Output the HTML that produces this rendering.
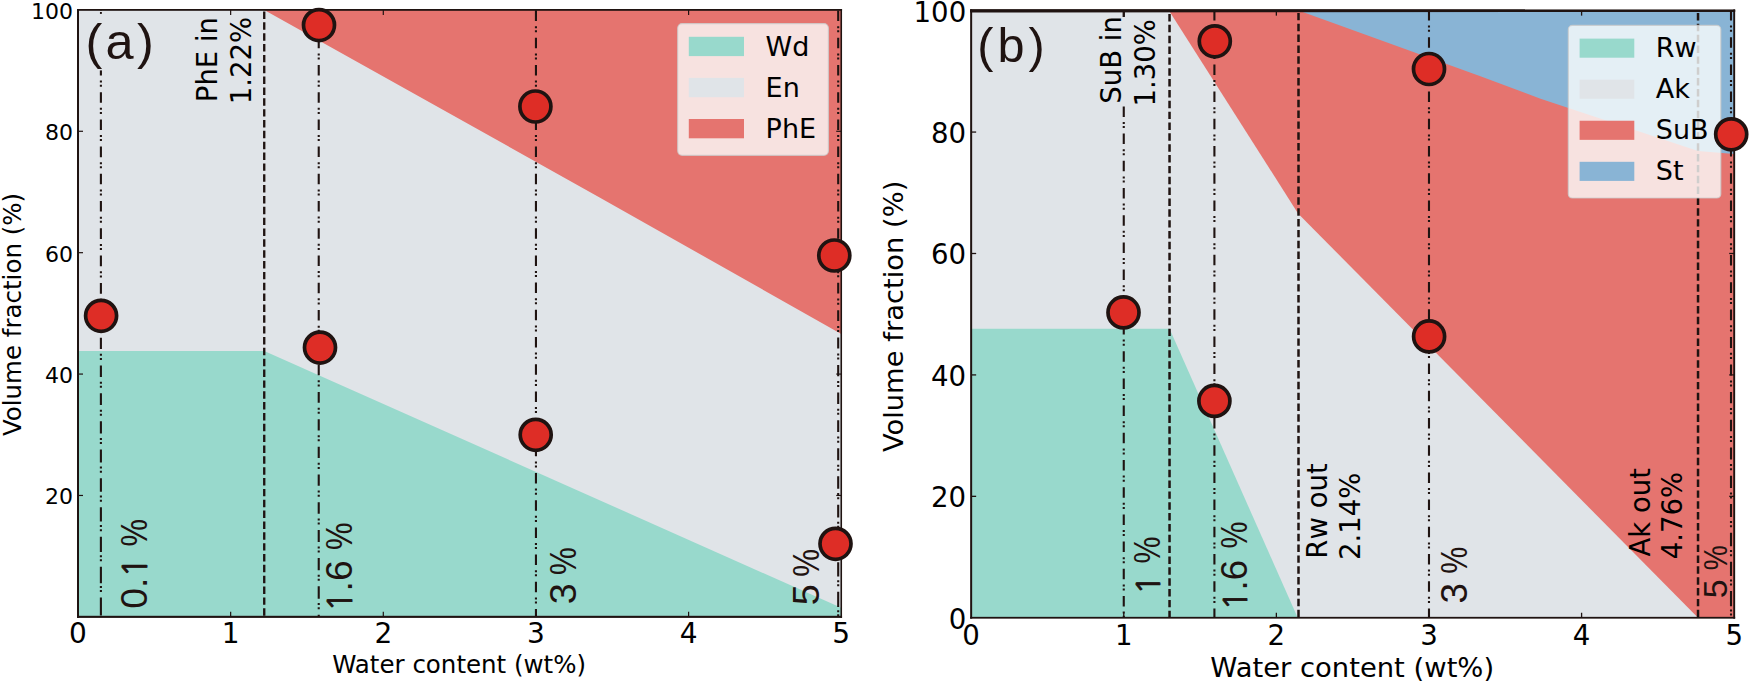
<!DOCTYPE html>
<html lang="en">
<head>
<meta charset="utf-8">
<title>Volume fraction vs water content</title>
<style>
html,body{margin:0;padding:0;background:#ffffff;}
body{width:1750px;height:683px;overflow:hidden;}
svg{display:block;}
text{fill:#000000;}
text.ar{fill:#1f1311;}
</style>
</head>
<body>
<svg width="1750" height="683" viewBox="0 0 1750 683">
<rect x="0" y="0" width="1750" height="683" fill="#ffffff"/>
<g id="panelA">
<rect x="78.0" y="9.9" width="763.25" height="606.95" fill="#e0e4e8"/>
<polygon points="78.00,616.85 78.00,351.01 264.23,351.01 841.25,607.75 841.25,616.85" fill="#98d9cc"/>
<polygon points="264.23,9.90 600.06,197.63 841.25,334.01 841.25,9.90" fill="#e5746f"/>
<line x1="100.90" y1="10.60" x2="100.90" y2="616.85" stroke="#1f1311" stroke-width="2.1" stroke-dasharray="10.50 5.10 2.00 2.10 2.00 5.50 10.50 5.10 2.00 2.10 2.00 5.50 10.50 5.10 2.00 2.10 2.00 5.50 10.50 5.10 2.00 2.10 2.00 5.50 10.51 5.10 2.00 2.10 2.00 5.50 10.52 5.09 2.00 2.10 2.00 5.50 10.54 5.08 2.00 2.10 2.00 5.50 10.58 5.07 2.00 2.10 2.00 5.50 10.64 5.04 2.00 2.10 2.00 5.50 10.73 5.01 2.00 2.10 2.00 5.50 10.85 4.96 2.00 2.10 2.00 5.50 11.01 4.90 2.00 2.10 2.00 5.50 11.22 4.81 2.00 2.10 2.00 5.50 11.50 4.70 2.00 2.10 2.00 5.50 11.85 4.56 2.00 2.10 2.00 5.50 12.29 4.38 2.00 2.10 2.00 5.50 12.84 4.17 2.00 2.10 2.00 5.50 13.51 3.90 2.00 2.10 2.00 5.50 14.33 3.57 2.00 2.10 2.00 5.50 15.32 3.17 2.00 2.10 2.00 5.50 16.52 2.69 2.00 2.10 2.00 5.50 17.97 2.11 2.00 2.10 2.00 5.50" stroke-dashoffset="0"/>
<line x1="318.73" y1="10.60" x2="318.73" y2="616.85" stroke="#1f1311" stroke-width="2.1" stroke-dasharray="10.50 5.10 2.00 2.10 2.00 5.50 10.50 5.10 2.00 2.10 2.00 5.50 10.50 5.10 2.00 2.10 2.00 5.50 10.50 5.10 2.00 2.10 2.00 5.50 10.50 5.10 2.00 2.10 2.00 5.50 10.51 5.10 2.00 2.10 2.00 5.50 10.51 5.09 2.00 2.10 2.00 5.50 10.52 5.09 2.00 2.10 2.00 5.50 10.54 5.08 2.00 2.10 2.00 5.50 10.57 5.07 2.00 2.10 2.00 5.50 10.60 5.06 2.00 2.10 2.00 5.50 10.65 5.04 2.00 2.10 2.00 5.50 10.71 5.02 2.00 2.10 2.00 5.50 10.79 4.98 2.00 2.10 2.00 5.50 10.89 4.94 2.00 2.10 2.00 5.50 11.02 4.89 2.00 2.10 2.00 5.50 11.17 4.83 2.00 2.10 2.00 5.50 11.36 4.76 2.00 2.10 2.00 5.50 11.58 4.67 2.00 2.10 2.00 5.50 11.85 4.56 2.00 2.10 2.00 5.50 12.16 4.44 2.00 2.10 2.00 5.50 12.53 4.29 2.00 2.10 2.00 5.50 12.96 4.11 2.00 2.10 2.00 5.50" stroke-dashoffset="0"/>
<line x1="535.95" y1="10.60" x2="535.95" y2="616.85" stroke="#1f1311" stroke-width="2.1" stroke-dasharray="10.5 5.1 2 2.1 2 5.5" stroke-dashoffset="0"/>
<line x1="838.20" y1="10.60" x2="838.20" y2="616.85" stroke="#1f1311" stroke-width="2.1" stroke-dasharray="10.50 5.10 2.00 2.10 2.00 5.50 10.50 5.10 2.00 2.10 2.00 5.50 10.50 5.10 2.00 2.10 2.00 5.50 10.50 5.10 2.00 2.10 2.00 5.50 10.51 5.10 2.00 2.10 2.00 5.50 10.51 5.09 2.00 2.10 2.00 5.50 10.53 5.09 2.00 2.10 2.00 5.50 10.55 5.08 2.00 2.10 2.00 5.50 10.59 5.06 2.00 2.10 2.00 5.50 10.65 5.04 2.00 2.10 2.00 5.50 10.72 5.01 2.00 2.10 2.00 5.50 10.83 4.97 2.00 2.10 2.00 5.50 10.97 4.91 2.00 2.10 2.00 5.50 11.14 4.84 2.00 2.10 2.00 5.50 11.37 4.75 2.00 2.10 2.00 5.50 11.65 4.64 2.00 2.10 2.00 5.50 11.99 4.50 2.00 2.10 2.00 5.50 12.42 4.33 2.00 2.10 2.00 5.50 12.93 4.13 2.00 2.10 2.00 5.50 13.54 3.88 2.00 2.10 2.00 5.50 14.27 3.59 2.00 2.10 2.00 5.50 15.15 3.24 2.00 2.10 2.00 5.50" stroke-dashoffset="0"/>
<line x1="264.23" y1="11.50" x2="264.23" y2="616.85" stroke="#1f1311" stroke-width="2.35" stroke-dasharray="7.45 3.4" stroke-dashoffset="0"/>
<rect x="84" y="10.8" width="74" height="59.6" fill="#e0e4e8"/>
<rect x="99.95" y="12.0" width="1.9" height="1.9" fill="#1f1311"/>
<line x1="230.65" y1="616.85" x2="230.65" y2="611.85" stroke="#1f1311" stroke-width="1.2"/>
<line x1="230.65" y1="9.9" x2="230.65" y2="14.9" stroke="#1f1311" stroke-width="1.2"/>
<line x1="383.30" y1="616.85" x2="383.30" y2="611.85" stroke="#1f1311" stroke-width="1.2"/>
<line x1="383.30" y1="9.9" x2="383.30" y2="14.9" stroke="#1f1311" stroke-width="1.2"/>
<line x1="535.95" y1="616.85" x2="535.95" y2="611.85" stroke="#1f1311" stroke-width="1.2"/>
<line x1="535.95" y1="9.9" x2="535.95" y2="14.9" stroke="#1f1311" stroke-width="1.2"/>
<line x1="688.60" y1="616.85" x2="688.60" y2="611.85" stroke="#1f1311" stroke-width="1.2"/>
<line x1="688.60" y1="9.9" x2="688.60" y2="14.9" stroke="#1f1311" stroke-width="1.2"/>
<line x1="78.0" y1="495.46" x2="83.0" y2="495.46" stroke="#1f1311" stroke-width="1.2"/>
<line x1="841.25" y1="495.46" x2="836.25" y2="495.46" stroke="#1f1311" stroke-width="1.2"/>
<line x1="78.0" y1="374.07" x2="83.0" y2="374.07" stroke="#1f1311" stroke-width="1.2"/>
<line x1="841.25" y1="374.07" x2="836.25" y2="374.07" stroke="#1f1311" stroke-width="1.2"/>
<line x1="78.0" y1="252.68" x2="83.0" y2="252.68" stroke="#1f1311" stroke-width="1.2"/>
<line x1="841.25" y1="252.68" x2="836.25" y2="252.68" stroke="#1f1311" stroke-width="1.2"/>
<line x1="78.0" y1="131.29" x2="83.0" y2="131.29" stroke="#1f1311" stroke-width="1.2"/>
<line x1="841.25" y1="131.29" x2="836.25" y2="131.29" stroke="#1f1311" stroke-width="1.2"/>
<rect x="77.00" y="9.00" width="2.0" height="608.90" fill="#1f1311"/>
<rect x="840.45" y="9.00" width="1.6" height="608.90" fill="#1f1311"/>
<rect x="77.00" y="9.00" width="765.05" height="1.8" fill="#1f1311"/>
<rect x="77.00" y="615.80" width="765.05" height="2.1" fill="#1f1311"/>
<text x="78.00" y="642.80" font-family='"DejaVu Sans","Liberation Sans",sans-serif' font-size="28" text-anchor="middle" >0</text>
<text x="230.65" y="642.80" font-family='"DejaVu Sans","Liberation Sans",sans-serif' font-size="28" text-anchor="middle" >1</text>
<text x="383.30" y="642.80" font-family='"DejaVu Sans","Liberation Sans",sans-serif' font-size="28" text-anchor="middle" >2</text>
<text x="535.95" y="642.80" font-family='"DejaVu Sans","Liberation Sans",sans-serif' font-size="28" text-anchor="middle" >3</text>
<text x="688.60" y="642.80" font-family='"DejaVu Sans","Liberation Sans",sans-serif' font-size="28" text-anchor="middle" >4</text>
<text x="841.25" y="642.80" font-family='"DejaVu Sans","Liberation Sans",sans-serif' font-size="28" text-anchor="middle" >5</text>
<text x="73.10" y="504.46" font-family='"DejaVu Sans","Liberation Sans",sans-serif' font-size="22" text-anchor="end" >20</text>
<text x="73.10" y="383.07" font-family='"DejaVu Sans","Liberation Sans",sans-serif' font-size="22" text-anchor="end" >40</text>
<text x="73.10" y="261.68" font-family='"DejaVu Sans","Liberation Sans",sans-serif' font-size="22" text-anchor="end" >60</text>
<text x="73.10" y="140.29" font-family='"DejaVu Sans","Liberation Sans",sans-serif' font-size="22" text-anchor="end" >80</text>
<text x="73.10" y="18.90" font-family='"DejaVu Sans","Liberation Sans",sans-serif' font-size="22" text-anchor="end" >100</text>
<rect x="677.7" y="23.6" width="150.7" height="131.7" rx="4.5" fill="#fbfefc" fill-opacity="0.8" stroke="#cccccc" stroke-opacity="0.8" stroke-width="1.2"/>
<rect x="688.8" y="36.80" width="55.2" height="19.3" fill="#98d9cc"/>
<text x="765.60" y="56.10" font-family='"DejaVu Sans","Liberation Sans",sans-serif' font-size="27" text-anchor="start" >Wd</text>
<rect x="688.8" y="77.90" width="55.2" height="19.3" fill="#e0e4e8"/>
<text x="765.60" y="97.20" font-family='"DejaVu Sans","Liberation Sans",sans-serif' font-size="27" text-anchor="start" >En</text>
<rect x="688.8" y="119.00" width="55.2" height="19.3" fill="#e5746f"/>
<text x="765.60" y="138.30" font-family='"DejaVu Sans","Liberation Sans",sans-serif' font-size="27" text-anchor="start" >PhE</text>
<circle cx="101.10" cy="315.80" r="15.5" fill="#de2d26" stroke="#1f1311" stroke-width="3.7"/>
<circle cx="319.00" cy="25.10" r="15.5" fill="#de2d26" stroke="#1f1311" stroke-width="3.7"/>
<circle cx="320.00" cy="347.60" r="15.5" fill="#de2d26" stroke="#1f1311" stroke-width="3.7"/>
<circle cx="535.40" cy="106.50" r="15.5" fill="#de2d26" stroke="#1f1311" stroke-width="3.7"/>
<circle cx="535.70" cy="434.80" r="15.5" fill="#de2d26" stroke="#1f1311" stroke-width="3.7"/>
<circle cx="834.30" cy="255.50" r="15.5" fill="#de2d26" stroke="#1f1311" stroke-width="3.7"/>
<circle cx="835.50" cy="543.80" r="15.5" fill="#de2d26" stroke="#1f1311" stroke-width="3.7"/>
<text x="85.60" y="59.40" font-family='"Liberation Sans","DejaVu Sans",sans-serif' font-size="50.5" text-anchor="start" letter-spacing="3.2" class="ar">(a)</text>
<text transform="translate(216.75,102.20) rotate(-90)" font-family='"DejaVu Sans","Liberation Sans",sans-serif' font-size="27.5" text-anchor="start" >PhE in</text>
<text transform="translate(250.50,104.30) rotate(-90)" font-family='"DejaVu Sans","Liberation Sans",sans-serif' font-size="27.5" text-anchor="start" >1.22%</text>
<text transform="translate(147.40,608.69) rotate(-90)" font-family='"Liberation Sans","DejaVu Sans",sans-serif' font-size="37.3" text-anchor="start"  class="ar">0.<tspan font-family='"NanumGothic","Liberation Sans",sans-serif' font-size="33.6" stroke="#1f1311" stroke-width="0.9">1</tspan></text>
<text transform="translate(147.40,519.05) rotate(-90) scale(0.83,1)" font-family='"Liberation Sans","DejaVu Sans",sans-serif' font-size="37.3" text-anchor="end" class="ar">%</text>
<text transform="translate(351.80,611.80) rotate(-90)" font-family='"Liberation Sans","DejaVu Sans",sans-serif' font-size="37.3" text-anchor="start"  class="ar"><tspan font-family='"NanumGothic","Liberation Sans",sans-serif' font-size="33.6" stroke="#1f1311" stroke-width="0.9">1</tspan>.6</text>
<text transform="translate(351.80,522.55) rotate(-90) scale(0.83,1)" font-family='"Liberation Sans","DejaVu Sans",sans-serif' font-size="37.3" text-anchor="end" class="ar">%</text>
<text transform="translate(575.80,604.24) rotate(-90)" font-family='"Liberation Sans","DejaVu Sans",sans-serif' font-size="37.8" text-anchor="start"  class="ar">3</text>
<text transform="translate(575.80,547.14) rotate(-90) scale(0.83,1)" font-family='"Liberation Sans","DejaVu Sans",sans-serif' font-size="37.8" text-anchor="end" class="ar">%</text>
<text transform="translate(818.80,605.21) rotate(-90)" font-family='"Liberation Sans","DejaVu Sans",sans-serif' font-size="37.8" text-anchor="start"  class="ar">5</text>
<text transform="translate(818.80,548.94) rotate(-90) scale(0.83,1)" font-family='"Liberation Sans","DejaVu Sans",sans-serif' font-size="37.8" text-anchor="end" class="ar">%</text>
<text transform="translate(20.70,436.10) rotate(-90)" font-family='"DejaVu Sans","Liberation Sans",sans-serif' font-size="24.5" text-anchor="start" >Volume fraction (%)</text>
<text x="332.20" y="672.60" font-family='"DejaVu Sans","Liberation Sans",sans-serif' font-size="24.5" text-anchor="start" >Water content (wt%)</text>
</g>
<g id="panelB">
<rect x="971.15" y="10.65" width="763.05" height="607.10" fill="#e0e4e8"/>
<polygon points="971.15,617.75 971.15,328.77 1169.54,328.77 1297.74,617.75" fill="#98d9cc"/>
<polygon points="1169.09,10.65 1298.04,213.42 1698.03,617.75 1734.20,617.75 1734.20,10.65" fill="#e5746f"/>
<polygon points="1299.26,10.65 1480.41,76.22 1540.54,98.68 1698.03,150.89 1734.20,153.93 1734.20,10.65" fill="#89b4d5"/>
<line x1="1214.41" y1="10.00" x2="1214.41" y2="617.75" stroke="#1f1311" stroke-width="2.1" stroke-dasharray="10.5 5.1 2 2.1 2 5.5" stroke-dashoffset="0"/>
<line x1="1428.98" y1="10.00" x2="1428.98" y2="617.75" stroke="#1f1311" stroke-width="2.1" stroke-dasharray="10.5 5.1 2 2.1 2 5.5" stroke-dashoffset="0"/>
<line x1="1731.00" y1="10.00" x2="1731.00" y2="617.75" stroke="#1f1311" stroke-width="2.1" stroke-dasharray="10.50 5.10 2.00 2.10 2.00 5.50 10.50 5.10 2.00 2.10 2.00 5.50 10.50 5.10 2.00 2.10 2.00 5.50 10.50 5.10 2.00 2.10 2.00 5.50 10.51 5.10 2.00 2.10 2.00 5.50 10.51 5.09 2.00 2.10 2.00 5.50 10.53 5.09 2.00 2.10 2.00 5.50 10.55 5.08 2.00 2.10 2.00 5.50 10.59 5.06 2.00 2.10 2.00 5.50 10.65 5.04 2.00 2.10 2.00 5.50 10.72 5.01 2.00 2.10 2.00 5.50 10.82 4.97 2.00 2.10 2.00 5.50 10.96 4.92 2.00 2.10 2.00 5.50 11.14 4.85 2.00 2.10 2.00 5.50 11.36 4.76 2.00 2.10 2.00 5.50 11.64 4.65 2.00 2.10 2.00 5.50 11.98 4.51 2.00 2.10 2.00 5.50 12.40 4.34 2.00 2.10 2.00 5.50 12.90 4.14 2.00 2.10 2.00 5.50 13.51 3.90 2.00 2.10 2.00 5.50 14.23 3.61 2.00 2.10 2.00 5.50 15.10 3.26 2.00 2.10 2.00 5.50" stroke-dashoffset="0"/>
<line x1="1123.76" y1="106.40" x2="1123.76" y2="617.75" stroke="#1f1311" stroke-width="2.1" stroke-dasharray="10.5 5.1 2 2.1 2 5.5" stroke-dashoffset="0"/>
<line x1="1123.76" y1="10.90" x2="1123.76" y2="17.00" stroke="#1f1311" stroke-width="2.35" stroke-dasharray="none" stroke-dashoffset="0"/>
<line x1="1169.54" y1="14.00" x2="1169.54" y2="617.75" stroke="#1f1311" stroke-width="2.5" stroke-dasharray="7.45 3.4" stroke-dashoffset="0"/>
<line x1="1298.50" y1="12.90" x2="1298.50" y2="617.75" stroke="#1f1311" stroke-width="2.5" stroke-dasharray="7.45 3.4" stroke-dashoffset="0"/>
<line x1="1698.03" y1="13.00" x2="1698.03" y2="617.75" stroke="#1f1311" stroke-width="2.5" stroke-dasharray="7.45 3.4" stroke-dashoffset="0"/>
<rect x="1096" y="17" width="62" height="89" fill="#e0e4e8"/>
<line x1="1123.76" y1="617.75" x2="1123.76" y2="612.75" stroke="#1f1311" stroke-width="1.3"/>
<line x1="1123.76" y1="10.65" x2="1123.76" y2="15.65" stroke="#1f1311" stroke-width="1.3"/>
<line x1="1276.37" y1="617.75" x2="1276.37" y2="612.75" stroke="#1f1311" stroke-width="1.3"/>
<line x1="1276.37" y1="10.65" x2="1276.37" y2="15.65" stroke="#1f1311" stroke-width="1.3"/>
<line x1="1428.98" y1="617.75" x2="1428.98" y2="612.75" stroke="#1f1311" stroke-width="1.3"/>
<line x1="1428.98" y1="10.65" x2="1428.98" y2="15.65" stroke="#1f1311" stroke-width="1.3"/>
<line x1="1581.59" y1="617.75" x2="1581.59" y2="612.75" stroke="#1f1311" stroke-width="1.3"/>
<line x1="1581.59" y1="10.65" x2="1581.59" y2="15.65" stroke="#1f1311" stroke-width="1.3"/>
<line x1="971.15" y1="496.33" x2="976.15" y2="496.33" stroke="#1f1311" stroke-width="1.3"/>
<line x1="1734.2" y1="496.33" x2="1729.2" y2="496.33" stroke="#1f1311" stroke-width="1.3"/>
<line x1="971.15" y1="374.91" x2="976.15" y2="374.91" stroke="#1f1311" stroke-width="1.3"/>
<line x1="1734.2" y1="374.91" x2="1729.2" y2="374.91" stroke="#1f1311" stroke-width="1.3"/>
<line x1="971.15" y1="253.49" x2="976.15" y2="253.49" stroke="#1f1311" stroke-width="1.3"/>
<line x1="1734.2" y1="253.49" x2="1729.2" y2="253.49" stroke="#1f1311" stroke-width="1.3"/>
<line x1="971.15" y1="132.07" x2="976.15" y2="132.07" stroke="#1f1311" stroke-width="1.3"/>
<line x1="1734.2" y1="132.07" x2="1729.2" y2="132.07" stroke="#1f1311" stroke-width="1.3"/>
<rect x="970.15" y="9.45" width="2.0" height="609.20" fill="#1f1311"/>
<rect x="1733.25" y="9.45" width="1.9" height="609.20" fill="#1f1311"/>
<rect x="970.15" y="9.45" width="765.00" height="2.4" fill="#1f1311"/>
<rect x="970.15" y="616.85" width="765.00" height="1.8" fill="#1f1311"/>
<text x="971.15" y="644.50" font-family='"DejaVu Sans","Liberation Sans",sans-serif' font-size="27.6" text-anchor="middle" >0</text>
<text x="1123.76" y="644.50" font-family='"DejaVu Sans","Liberation Sans",sans-serif' font-size="27.6" text-anchor="middle" >1</text>
<text x="1276.37" y="644.50" font-family='"DejaVu Sans","Liberation Sans",sans-serif' font-size="27.6" text-anchor="middle" >2</text>
<text x="1428.98" y="644.50" font-family='"DejaVu Sans","Liberation Sans",sans-serif' font-size="27.6" text-anchor="middle" >3</text>
<text x="1581.59" y="644.50" font-family='"DejaVu Sans","Liberation Sans",sans-serif' font-size="27.6" text-anchor="middle" >4</text>
<text x="1734.20" y="644.50" font-family='"DejaVu Sans","Liberation Sans",sans-serif' font-size="27.6" text-anchor="middle" >5</text>
<text x="966.20" y="628.75" font-family='"DejaVu Sans","Liberation Sans",sans-serif' font-size="27.6" text-anchor="end" >0</text>
<text x="966.20" y="507.33" font-family='"DejaVu Sans","Liberation Sans",sans-serif' font-size="27.6" text-anchor="end" >20</text>
<text x="966.20" y="385.91" font-family='"DejaVu Sans","Liberation Sans",sans-serif' font-size="27.6" text-anchor="end" >40</text>
<text x="966.20" y="264.49" font-family='"DejaVu Sans","Liberation Sans",sans-serif' font-size="27.6" text-anchor="end" >60</text>
<text x="966.20" y="143.07" font-family='"DejaVu Sans","Liberation Sans",sans-serif' font-size="27.6" text-anchor="end" >80</text>
<text x="966.20" y="21.65" font-family='"DejaVu Sans","Liberation Sans",sans-serif' font-size="27.6" text-anchor="end" >100</text>
<polygon points="970.15,9.2 1735.1,9.45 1735.1,11.85 970.15,12.6" fill="#1f1311"/>
<rect x="1568.3" y="25.4" width="152.5" height="172.6" rx="4" fill="#fbfefc" fill-opacity="0.8" stroke="#cccccc" stroke-opacity="0.8" stroke-width="1.2"/>
<rect x="1579.6" y="38.60" width="54.7" height="19.1" fill="#98d9cc"/>
<text x="1655.80" y="57.10" font-family='"DejaVu Sans","Liberation Sans",sans-serif' font-size="27" text-anchor="start" >Rw</text>
<rect x="1579.6" y="79.67" width="54.7" height="19.1" fill="#e0e4e8"/>
<text x="1655.80" y="98.17" font-family='"DejaVu Sans","Liberation Sans",sans-serif' font-size="27" text-anchor="start" >Ak</text>
<rect x="1579.6" y="120.74" width="54.7" height="19.1" fill="#e5746f"/>
<text x="1655.80" y="139.24" font-family='"DejaVu Sans","Liberation Sans",sans-serif' font-size="27" text-anchor="start" >SuB</text>
<rect x="1579.6" y="161.81" width="54.7" height="19.1" fill="#89b4d5"/>
<text x="1655.80" y="180.31" font-family='"DejaVu Sans","Liberation Sans",sans-serif' font-size="27" text-anchor="start" >St</text>
<circle cx="1123.50" cy="312.40" r="15.5" fill="#de2d26" stroke="#1f1311" stroke-width="3.7"/>
<circle cx="1214.80" cy="41.30" r="15.5" fill="#de2d26" stroke="#1f1311" stroke-width="3.7"/>
<circle cx="1214.40" cy="400.90" r="15.5" fill="#de2d26" stroke="#1f1311" stroke-width="3.7"/>
<circle cx="1429.00" cy="69.00" r="15.5" fill="#de2d26" stroke="#1f1311" stroke-width="3.7"/>
<circle cx="1429.10" cy="336.40" r="15.5" fill="#de2d26" stroke="#1f1311" stroke-width="3.7"/>
<circle cx="1731.20" cy="134.30" r="15.5" fill="#de2d26" stroke="#1f1311" stroke-width="3.7"/>
<text x="977.20" y="61.90" font-family='"Liberation Sans","DejaVu Sans",sans-serif' font-size="48.6" text-anchor="start" letter-spacing="4.1" class="ar">(b)</text>
<text transform="translate(1121.10,103.70) rotate(-90)" font-family='"DejaVu Sans","Liberation Sans",sans-serif' font-size="27.5" text-anchor="start" >SuB in</text>
<text transform="translate(1155.30,106.60) rotate(-90)" font-family='"DejaVu Sans","Liberation Sans",sans-serif' font-size="27.5" text-anchor="start" >1.30%</text>
<text transform="translate(1160.20,594.64) rotate(-90)" font-family='"Liberation Sans","DejaVu Sans",sans-serif' font-size="36.6" text-anchor="start"  class="ar"><tspan font-family='"NanumGothic","Liberation Sans",sans-serif' font-size="32.9" stroke="#1f1311" stroke-width="0.9">1</tspan></text>
<text transform="translate(1160.20,536.38) rotate(-90) scale(0.83,1)" font-family='"Liberation Sans","DejaVu Sans",sans-serif' font-size="36.6" text-anchor="end" class="ar">%</text>
<text transform="translate(1247.10,610.45) rotate(-90)" font-family='"Liberation Sans","DejaVu Sans",sans-serif' font-size="36.6" text-anchor="start"  class="ar"><tspan font-family='"NanumGothic","Liberation Sans",sans-serif' font-size="32.9" stroke="#1f1311" stroke-width="0.9">1</tspan>.6</text>
<text transform="translate(1247.10,521.48) rotate(-90) scale(0.83,1)" font-family='"Liberation Sans","DejaVu Sans",sans-serif' font-size="36.6" text-anchor="end" class="ar">%</text>
<text transform="translate(1467.10,603.40) rotate(-90)" font-family='"Liberation Sans","DejaVu Sans",sans-serif' font-size="36.8" text-anchor="start"  class="ar">3</text>
<text transform="translate(1467.10,546.67) rotate(-90) scale(0.83,1)" font-family='"Liberation Sans","DejaVu Sans",sans-serif' font-size="36.8" text-anchor="end" class="ar">%</text>
<text transform="translate(1727.00,598.36) rotate(-90)" font-family='"Liberation Sans","DejaVu Sans",sans-serif' font-size="34" text-anchor="start"  class="ar">5</text>
<text transform="translate(1727.00,545.06) rotate(-90) scale(0.83,1)" font-family='"Liberation Sans","DejaVu Sans",sans-serif' font-size="34" text-anchor="end" class="ar">%</text>
<text transform="translate(1327.00,558.70) rotate(-90)" font-family='"DejaVu Sans","Liberation Sans",sans-serif' font-size="27.5" text-anchor="start" >Rw out</text>
<text transform="translate(1360.30,559.90) rotate(-90)" font-family='"DejaVu Sans","Liberation Sans",sans-serif' font-size="27.5" text-anchor="start" >2.14%</text>
<text transform="translate(1649.70,556.60) rotate(-90)" font-family='"DejaVu Sans","Liberation Sans",sans-serif' font-size="27.5" text-anchor="start" >Ak out</text>
<text transform="translate(1682.20,559.20) rotate(-90)" font-family='"DejaVu Sans","Liberation Sans",sans-serif' font-size="27.5" text-anchor="start" >4.76%</text>
<text transform="translate(902.50,316.40) rotate(-90)" font-family='"DejaVu Sans","Liberation Sans",sans-serif' font-size="27.35" text-anchor="middle" >Volume fraction (%)</text>
<text x="1352.20" y="677.20" font-family='"DejaVu Sans","Liberation Sans",sans-serif' font-size="27.4" text-anchor="middle" >Water content (wt%)</text>
</g>
</svg>
</body>
</html>
